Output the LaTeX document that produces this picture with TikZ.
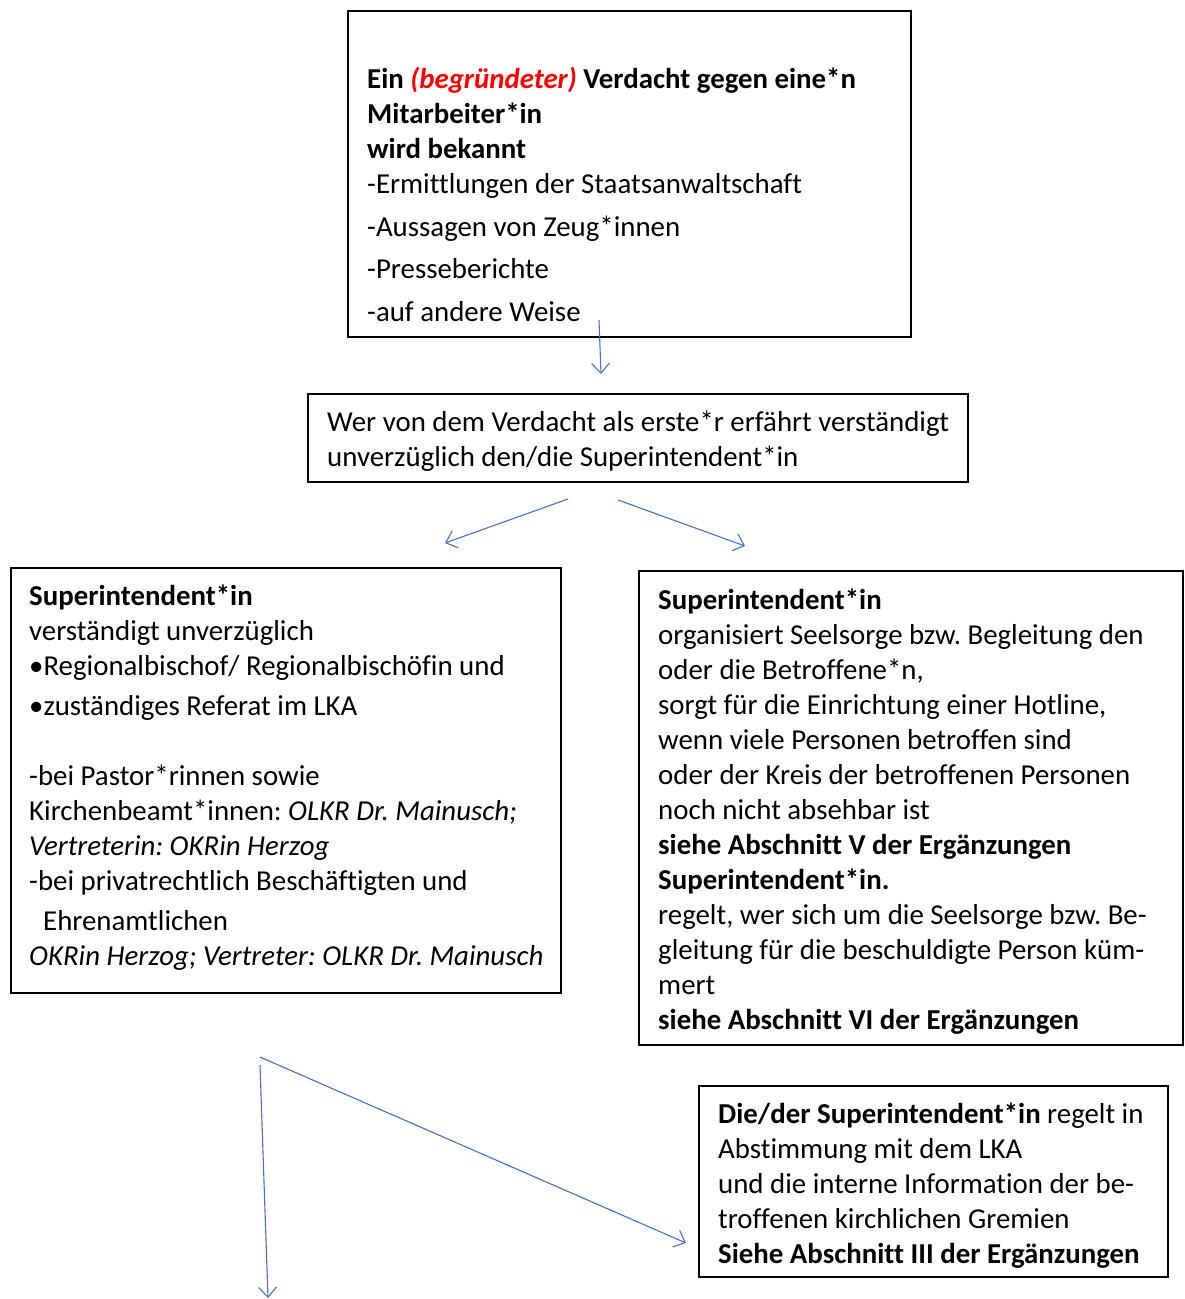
\documentclass[tikz,border=0pt]{standalone}
\usepackage{fontspec}
\setmainfont{Carlito}[Ligatures=NoCommon]
\usetikzlibrary{arrows.meta}
\definecolor{arrblue}{HTML}{4472C4}
\definecolor{redtxt}{HTML}{FF0000}
\frenchspacing
\begin{document}
\begin{tikzpicture}[x=1pt,y=-1pt,
  ln/.style={anchor=base west, inner sep=0pt, font=\fontsize{28.85}{35}\selectfont},
  boxframe/.style={draw=black, line width=1.2pt},
  arr/.style={draw=arrblue, line width=1.1pt, -{Straight Barb[length=10pt,width=18pt,line width=1.1pt]}}]
\useasboundingbox (0,0) rectangle (1184,1299);
\fill[white] (0,0) rectangle (1184,1299);

% box 1
\draw[boxframe] (348,11) rectangle (911,337);
\node[ln] (t1a) at (367,88) {\textbf{Ein \textcolor{redtxt}{\textit{(begründeter)}} Verdacht gegen eine*n}};
\node[ln] (t1b) at (367,123) {\textbf{Mitarbeiter*in}};
\node[ln] (t1c) at (367,158) {\textbf{wird bekannt}};
\node[ln] (t1d) at (367,193) {-Ermittlungen der Staatsanwaltschaft};
\node[ln] (t1e) at (367,236) {-Aussagen von Zeug*innen};
\node[ln] (t1f) at (367,278) {-Presseberichte};
\node[ln] (t1g) at (367,321) {-auf andere Weise};

% box 2
\draw[boxframe] (308,394) rectangle (968,482);
\node[ln] (t2a) at (327,431) {Wer von dem Verdacht als erste*r erfährt verständigt};
\node[ln] (t2b) at (327,466) {unverzüglich den/die Superintendent*in};

% box 3
\draw[boxframe] (11,568) rectangle (561,993);
\node[ln] (t3a) at (29,605) {\textbf{Superintendent*in}};
\node[ln] (t3b) at (29,640) {verständigt unverzüglich};
\node[ln] (t3c) at (29,675) {•Regionalbischof/ Regionalbischöfin und};
\node[ln] (t3d) at (29,715) {•zuständiges Referat im LKA};
\node[ln] (t3e) at (29,785) {-bei Pastor*rinnen sowie};
\node[ln] (t3f) at (29,820) {Kirchenbeamt*innen: \textit{OLKR Dr. Mainusch;}};
\node[ln] (t3g) at (29,855) {\textit{Vertreterin: OKRin Herzog}};
\node[ln] (t3h) at (29,890) {-bei privatrechtlich Beschäftigten und};
\node[ln] (t3i) at (43,930) {Ehrenamtlichen};
\node[ln] (t3j) at (29,965) {\textit{OKRin Herzog; Vertreter: OLKR Dr. Mainusch}};

% box 4
\draw[boxframe] (639,571) rectangle (1183,1045);
\node[ln] (t4a) at (658,609) {\textbf{Superintendent*in}};
\node[ln] (t4b) at (658,644) {organisiert Seelsorge bzw. Begleitung den};
\node[ln] (t4c) at (658,679) {oder die Betroffene*n,};
\node[ln] (t4d) at (658,714) {sorgt für die Einrichtung einer Hotline,};
\node[ln] (t4e) at (658,749) {wenn viele Personen betroffen sind};
\node[ln] (t4f) at (658,784) {oder der Kreis der betroffenen Personen};
\node[ln] (t4g) at (658,819) {noch nicht absehbar ist};
\node[ln] (t4h) at (658,854) {\textbf{siehe Abschnitt V der Ergänzungen}};
\node[ln] (t4i) at (658,889) {\textbf{Superintendent*in.}};
\node[ln] (t4j) at (658,924) {regelt, wer sich um die Seelsorge bzw. Be-};
\node[ln] (t4k) at (658,959) {gleitung für die beschuldigte Person küm-};
\node[ln] (t4l) at (658,994) {mert};
\node[ln] (t4m) at (658,1029) {\textbf{siehe Abschnitt VI der Ergänzungen}};

% box 5
\draw[boxframe] (699,1086) rectangle (1168,1277);
\node[ln] (t5a) at (718,1123) {\textbf{Die/der Superintendent*in} regelt in};
\node[ln] (t5b) at (718,1158) {Abstimmung mit dem LKA};
\node[ln] (t5c) at (718,1193) {und die interne Information der be-};
\node[ln] (t5d) at (718,1228) {troffenen kirchlichen Gremien};
\node[ln] (t5e) at (718,1263) {\textbf{Siehe Abschnitt III der Ergänzungen}};

% arrows
\coordinate (a1s) at (599,320);
\coordinate (a1e) at (601,374);
\coordinate (a2s) at (568,499);
\coordinate (a2e) at (445,543);
\coordinate (a3s) at (618,500);
\coordinate (a3e) at (745,546);
\coordinate (a4s) at (260,1065);
\coordinate (a4e) at (268,1298);
\coordinate (a5s) at (260,1057);
\coordinate (a5e) at (686,1243);
\draw[arr] (a1s) -- (a1e);
\draw[arr] (a2s) -- (a2e);
\draw[arr] (a3s) -- (a3e);
\draw[arr] (a4s) -- (a4e);
\draw[arr] (a5s) -- (a5e);
\end{tikzpicture}
\end{document}
